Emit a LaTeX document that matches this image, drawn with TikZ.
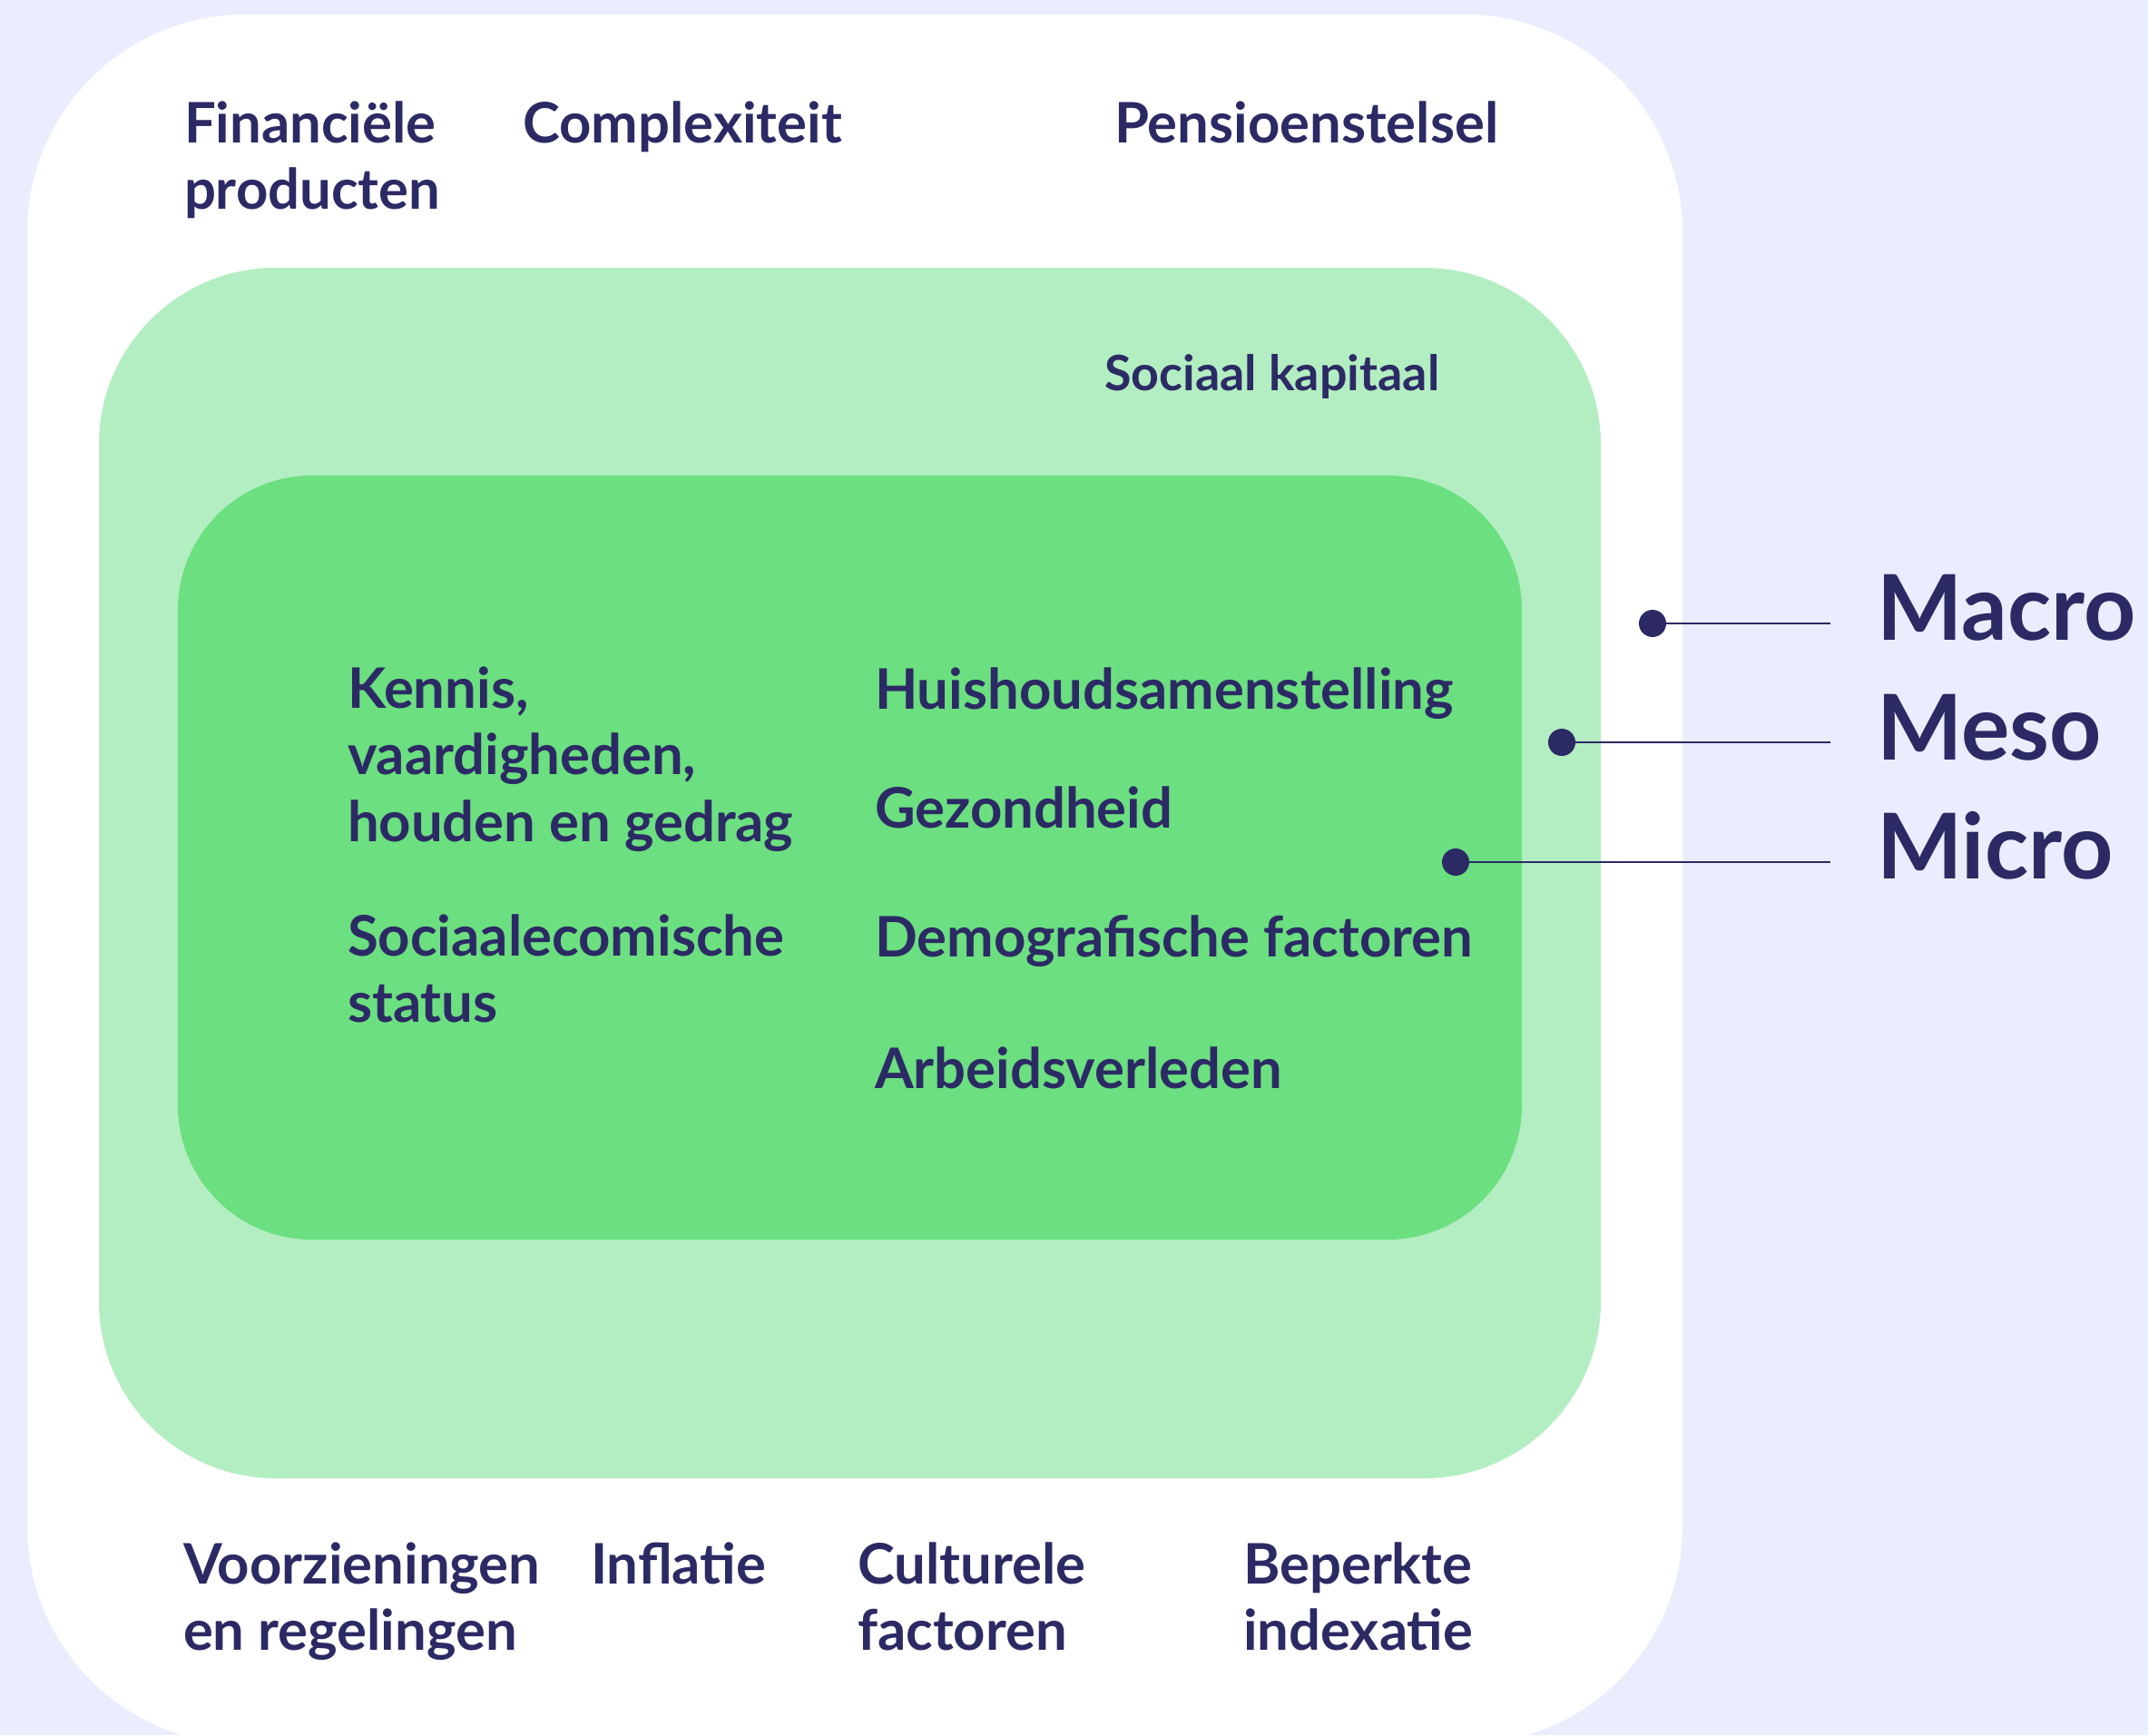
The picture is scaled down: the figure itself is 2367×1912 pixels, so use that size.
\documentclass[tikz,border=0pt]{standalone}
\usepackage{fontspec}
\setmainfont{Lato}
\definecolor{bgc}{HTML}{EAEDFD}
\definecolor{lgreen}{HTML}{B3EEC2}
\definecolor{dgreen}{HTML}{6CDF80}
\definecolor{ink}{HTML}{2C2A64}
\newcommand\mainsize{\fontsize{30.8pt}{36.75pt}\selectfont\bfseries}
\newcommand\smallsize{\fontsize{26.9pt}{30pt}\selectfont\bfseries}
\newcommand\bigsize{\fontsize{50pt}{60pt}\selectfont\bfseries}
\newcommand\twol[2]{\vtop{\hbox{#1}\hbox{#2}}}
\newcommand\threel[3]{\vtop{\hbox{#1}\hbox{#2}\hbox{#3}}}
\begin{document}
\begin{tikzpicture}[x=0.5pt,y=-0.5pt,
  lbl/.style={anchor=base west, inner sep=0pt, outer sep=0pt, text=ink, font=\mainsize},
  sml/.style={lbl, font=\smallsize},
  lvl/.style={lbl, font=\bigsize},
  dot/.style={circle, fill=ink, inner sep=0pt, minimum size=15pt},
  leader/.style={draw=ink, line width=1.15pt}]
\useasboundingbox (0,0) rectangle (2367,1912);
\clip (0,0) rectangle (2367,1912);
\fill[bgc] (0,0) rectangle (2367,1912);
\fill[white, rounded corners=120pt] (30,16) rectangle (1854,1922);
\fill[lgreen, rounded corners=97.5pt] (109,295) rectangle (1764,1629);
\fill[dgreen, rounded corners=74pt] (196,524) rectangle (1677,1366);
% top labels
\node[lbl] (fin) at (203,157) {\twol{Financiële}{producten}};
\node[lbl] (com) at (576,157) {Complexiteit};
\node[lbl] (pen) at (1228,157) {Pensioenstelsel};
% meso label
\node[sml] (soc) at (1217,430) {Sociaal kapitaal};
% micro labels
\node[lbl] (ken) at (383,780) {\threel{Kennis,}{vaardigheden,}{houden en gedrag}};
\node[lbl] (ses) at (383,1053) {\twol{Sociaalecomische}{status}};
\node[lbl] (hui) at (964,781) {Huishoudsamenstelling};
\node[lbl] (gez) at (964,912) {Gezondheid};
\node[lbl] (dem) at (964,1054) {Demografische factoren};
\node[lbl] (arb) at (964,1199) {Arbeidsverleden};
% bottom labels
\node[lbl] (voo) at (202,1745) {\twol{Voorzieningen}{en regelingen}};
\node[lbl] (inf) at (651,1745) {Inflatie};
\node[lbl] (cul) at (945,1745) {\twol{Culturele}{factoren}};
\node[lbl] (bep) at (1370,1745) {\twol{Beperkte}{indexatie}};
% level labels
\node[lvl] (mac) at (2068,705) {Macro};
\node[lvl] (mes) at (2068,837) {Meso};
\node[lvl] (mic) at (2068,968) {Micro};
% leaders
\coordinate (eA) at (2017,687);
\coordinate (eB) at (2017,818);
\coordinate (eC) at (2017,950);
\node[dot] (dA) at (1821,687) {};
\node[dot] (dB) at (1721,818) {};
\node[dot] (dC) at (1604,950) {};
\draw[leader] (dA.center) -- (eA);
\draw[leader] (dB.center) -- (eB);
\draw[leader] (dC.center) -- (eC);
\end{tikzpicture}
\end{document}
